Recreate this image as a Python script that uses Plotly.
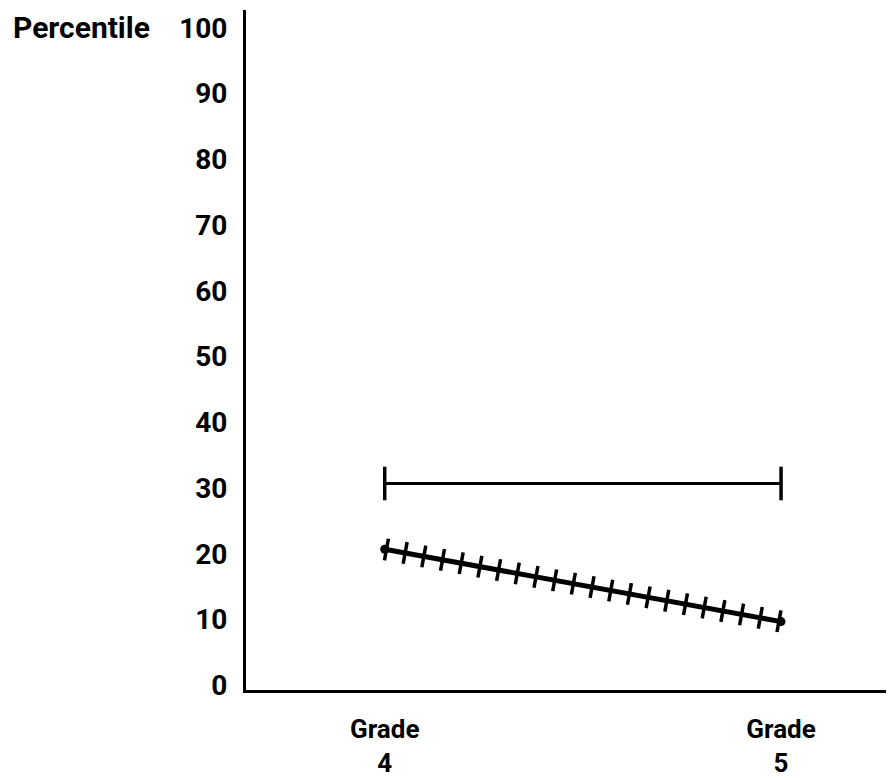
import plotly.graph_objects as go

grades = ["Grade<br>4", "Grade<br>5"]
group_a = [30.7, 30.7]   # plain line with end caps
group_b = [20.7, 9.7]    # hatched line
y_ticks = [0, 10, 20, 30, 40, 50, 60, 70, 80, 90, 100]

FONT = "Roboto"
xs = [0, 1]

fig = go.Figure()

fig.add_trace(go.Scatter(
    x=xs, y=group_a, mode="lines+markers",
    line=dict(color="black", width=3),
    marker=dict(symbol="line-ns", size=24, line=dict(color="black", width=3.5)),
    showlegend=False, hoverinfo="skip"))

# base of hatched line
fig.add_trace(go.Scatter(
    x=xs, y=group_b, mode="lines+markers",
    line=dict(color="black", width=5),
    marker=dict(symbol="circle", size=9, color="black"),
    showlegend=False, hoverinfo="skip"))

# hatch ticks: thick dashed line gives perpendicular tick marks
fig.add_trace(go.Scatter(
    x=xs, y=group_b, mode="lines",
    line=dict(color="black", width=22, dash="3.5px,15.5px"),
    showlegend=False, hoverinfo="skip"))

fig.update_layout(
    width=886, height=770,
    margin=dict(l=238, r=0, t=2, b=88, autoexpand=False),
    paper_bgcolor="white", plot_bgcolor="white",
    font=dict(family=FONT, color="black", size=28),
    xaxis=dict(
        range=[-0.35, 1.285], tickmode="array", tickvals=xs, ticktext=grades,
        showgrid=False, zeroline=False, showline=True, linecolor="black", linewidth=3,
        ticks="outside", ticklen=14, tickcolor="rgba(0,0,0,0)", automargin=False,
        tickfont=dict(family=FONT, size=26, weight="bold"),
    ),
    yaxis=dict(
        range=[-0.7, 102.7], tickmode="array", tickvals=y_ticks,
        ticktext=[str(v) for v in y_ticks],
        showgrid=False, zeroline=False, showline=True, linecolor="black", linewidth=3,
        ticks="outside", ticklen=10, tickcolor="rgba(0,0,0,0)", automargin=False,
        tickfont=dict(family=FONT, size=28, weight="bold"),
    ),
    annotations=[dict(
        text="Percentile", xref="paper", yref="y", x=-0.362, y=100.0,
        xanchor="left", yanchor="middle", showarrow=False,
        font=dict(family=FONT, size=30, weight="bold"))],
)

fig.write_html("out.html")
